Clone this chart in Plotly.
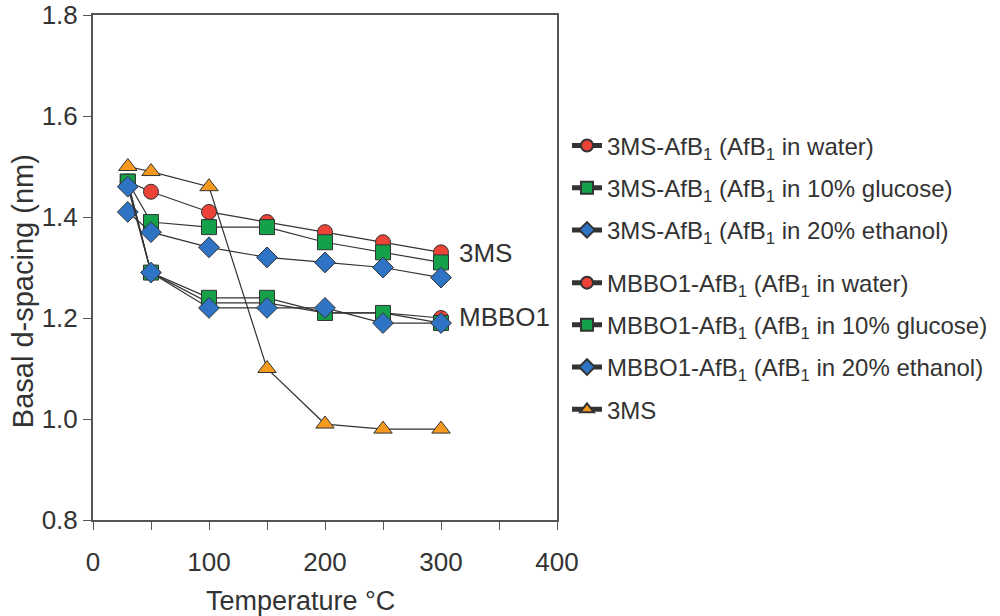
import plotly.graph_objects as go

temps = [30, 50, 100, 150, 200, 250, 300]

ms_water = [1.47, 1.45, 1.41, 1.39, 1.37, 1.35, 1.33]
ms_glucose = [1.47, 1.39, 1.38, 1.38, 1.35, 1.33, 1.31]
ms_ethanol = [1.41, 1.37, 1.34, 1.32, 1.31, 1.30, 1.28]
mb_water = [1.47, 1.29, 1.23, 1.23, 1.21, 1.21, 1.20]
mb_glucose = [1.47, 1.29, 1.24, 1.24, 1.21, 1.21, 1.19]
mb_ethanol = [1.46, 1.29, 1.22, 1.22, 1.22, 1.19, 1.19]
ms_plain = [1.50, 1.49, 1.46, 1.10, 0.99, 0.98, 0.98]

names = [
    "3MS-AfB<sub>1</sub> (AfB<sub>1</sub> in water)",
    "3MS-AfB<sub>1</sub> (AfB<sub>1</sub> in 10% glucose)",
    "3MS-AfB<sub>1</sub> (AfB<sub>1</sub> in 20% ethanol)",
    "MBBO1-AfB<sub>1</sub> (AfB<sub>1</sub> in water)",
    "MBBO1-AfB<sub>1</sub> (AfB<sub>1</sub> in 10% glucose)",
    "MBBO1-AfB<sub>1</sub> (AfB<sub>1</sub> in 20% ethanol)",
    "3MS",
]
series = [ms_water, ms_glucose, ms_ethanol, mb_water, mb_glucose, mb_ethanol, ms_plain]

RED = "#ec4339"
GREEN = "#15a04a"
BLUE = "#2f74c4"
ORANGE = "#f59a1f"
colors = [RED, GREEN, BLUE, RED, GREEN, BLUE, ORANGE]
symbols = ["circle", "square", "diamond", "circle", "square", "diamond", "triangle-up"]
sizes = [15, 15, 16, 15, 15, 16, 16]
legends = ["legend", "legend", "legend", "legend2", "legend2", "legend2", "legend2"]

fig = go.Figure()
for i, (nm, ys) in enumerate(zip(names, series)):
    fig.add_trace(go.Scatter(
        x=temps, y=ys, name=nm, mode="lines+markers",
        line=dict(color="#333333", width=1.2),
        marker=dict(symbol=symbols[i], size=sizes[i], color=colors[i],
                    line=dict(color="#333333", width=1)),
        legend=legends[i], legendgroup="g%d" % i,
    ))

FONT = "Liberation Sans, Arial, sans-serif"
TXT = "#333333"

fig.add_annotation(x=314, y=1.329, text="3MS", showarrow=False, xanchor="left",
                   yanchor="middle", font=dict(size=26, color=TXT, family=FONT))
fig.add_annotation(x=314, y=1.202, text="MBBO1", showarrow=False, xanchor="left",
                   yanchor="middle", font=dict(size=26, color=TXT, family=FONT))

# axis titles placed as annotations to match the reference positions
fig.add_annotation(xref="paper", yref="paper", x=0.448, y=-0.161,
                   text="Temperature °C", showarrow=False,
                   xanchor="center", yanchor="middle",
                   font=dict(size=27, color=TXT, family=FONT))
fig.add_annotation(xref="paper", yref="paper", x=-0.151, y=0.453,
                   text="Basal d-spacing (nm)", showarrow=False, textangle=-90,
                   xanchor="center", yanchor="middle",
                   font=dict(size=29, color=TXT, family=FONT))

leg_common = dict(
    xanchor="left", yanchor="top", x=0.567, xref="container", yref="container",
    font=dict(size=24, color=TXT, family=FONT),
    bgcolor="rgba(0,0,0,0)", traceorder="grouped", tracegroupgap=8,
    itemsizing="constant", itemwidth=30,
)

fig.update_layout(
    width=1000, height=616,
    margin=dict(l=93, r=443, t=15, b=96),
    paper_bgcolor="white", plot_bgcolor="white",
    font=dict(family=FONT, color=TXT, size=26),
    legend=dict(y=0.7997, **leg_common),
    legend2=dict(y=0.577, **leg_common),
    showlegend=True,
    xaxis=dict(
        range=[0, 400], dtick=100, tick0=0, ticks="outside", ticklen=8,
        tickcolor="#555555", showline=True, linecolor="#555555", linewidth=2,
        mirror=True, showgrid=False, zeroline=False, automargin=False,
        tickfont=dict(size=26, color=TXT), ticklabelstandoff=10,
        ticklabeloverflow="allow",
        minor=dict(dtick=50, ticks="outside", ticklen=8, tickcolor="#555555"),
    ),
    yaxis=dict(
        range=[0.8, 1.8], dtick=0.2, tick0=0.8, tickformat=".1f", ticks="outside",
        ticklen=8, tickcolor="#555555", showline=True, linecolor="#555555",
        linewidth=2, mirror=True, showgrid=False, zeroline=False, automargin=False,
        tickfont=dict(size=26, color=TXT), ticklabeloverflow="allow",
    ),
)

fig.write_html(
    "out.html",
    config={"displayModeBar": False},
    post_script="document.body.style.margin='0';",
)
